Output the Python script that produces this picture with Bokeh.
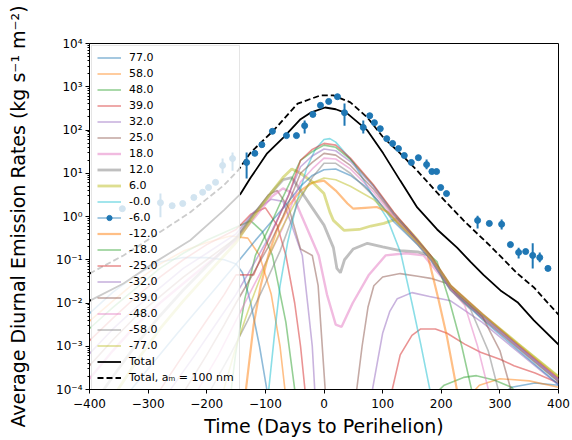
import numpy as np
from bokeh.plotting import figure
from bokeh.models import Range1d, FixedTicker, CustomJSTickFormatter, Legend, LegendItem
from bokeh.embed import file_html
from bokeh.resources import INLINE

# ---- latitude curves: days to perihelion, log10 of emission rate ----
lat_labels = ["77.0", "58.0", "48.0", "39.0", "32.0", "25.0", "18.0", "12.0", "6.0", "-0.0",
              "-6.0", "-12.0", "-18.0", "-25.0", "-32.0", "-39.0", "-48.0", "-58.0", "-77.0"]
lat_colors = ["#1f77b4", "#ff7f0e", "#2ca02c", "#d62728", "#9467bd", "#8c564b", "#e377c2",
              "#7f7f7f", "#bcbd22", "#17becf", "#1f77b4", "#ff7f0e", "#2ca02c", "#d62728",
              "#9467bd", "#8c564b", "#e377c2", "#7f7f7f", "#bcbd22"]

days_p77 = [-400, -360, -320, -280, -240, -200, -170, -150, -139, -125, -110, -95, 295, 320, 360, 400]
lg_p77 = [-2.24, -1.75, -1.35, -1.05, -0.95, -0.95, -1.0, -1.1, -1.3, -2.0, -3.0, -4.2, -4.2, -3.95, -3.85, -3.9]

days_p58 = [-400, -360, -320, -280, -240, -200, -160, -130, -110, -90, -75, -65, 245, 265, 300, 350, 400]
lg_p58 = [-2.42, -1.95, -1.5, -1.1, -0.8, -0.6, -0.45, -0.5, -0.9, -1.8, -3.0, -4.2, -4.2, -3.9, -3.75, -3.8, -3.95]

days_p48 = [-400, -360, -320, -280, -240, -200, -150, -125, -105, -88, -65, -48, 182, 205, 238, 260, 290, 320, 335]
lg_p48 = [-2.59, -2.1, -1.65, -1.2, -0.85, -0.55, -0.25, -0.1, -0.35, -0.9, -2.45, -4.2, -4.2, -3.9, -3.72, -3.68, -3.78, -3.95, -4.2]

days_p39 = [-400, -360, -320, -280, -240, -200, -150, -125, -100, -80, -65, -50, -40, -31,
            113, 130, 150, 165, 190, 210, 240, 267, 300, 324, 360, 400]
lg_p39 = [-2.87, -2.35, -1.85, -1.4, -1.0, -0.65, -0.3, 0.05, 0.2, -0.2, -0.9, -2.0, -3.0, -4.2,
          -4.2, -3.2, -2.75, -2.6, -2.6, -2.7, -2.95, -3.14, -3.3, -3.45, -3.62, -3.85]

days_p32 = [-400, -360, -320, -280, -240, -200, -150, -120, -90, -70, -55, -37, -28, -20, -15,
            80, 92, 100, 112, 125, 150, 180, 216, 270, 330, 400]
lg_p32 = [-3.17, -2.6, -2.1, -1.65, -1.2, -0.85, -0.4, 0.1, 0.4, 0.35, -0.2, -0.9, -2.0, -3.0, -4.2,
          -4.2, -3.3, -2.7, -2.2, -1.9, -1.76, -1.85, -1.95, -2.45, -3.12, -3.9]

days_p25 = [-400, -360, -320, -280, -240, -200, -150, -120, -95, -80, -60, -40, -20, -10, -4, 3,
            54, 65, 75, 85, 100, 130, 160, 182, 210, 227, 270, 330, 400]
lg_p25 = [-3.45, -2.85, -2.3, -1.85, -1.4, -1.0, -0.5, 0.05, 0.5, 0.6, 0.2, -0.75, -0.9, -1.6, -2.8, -4.2,
          -4.2, -3.0, -2.1, -1.6, -1.4, -1.32, -1.38, -1.43, -1.55, -1.83, -2.35, -3.03, -3.82]

days_p18 = [-400, -360, -320, -280, -240, -200, -150, -120, -90, -70, -55, -40, -25, -9, 5, 20, 30,
            49, 76, 105, 140, 170, 216, 270, 330, 400]
lg_p18 = [-3.75, -3.1, -2.5, -2.0, -1.55, -1.1, -0.55, -0.05, 0.45, 0.65, 0.55, 0.07, -0.4, -0.9, -1.8, -2.5, -2.55,
          -2.0, -1.36, -0.9, -0.85, -0.9, -1.65, -2.33, -3.0, -3.78]

days_p12 = [-386, -360, -320, -280, -240, -200, -150, -120, -90, -70, -55, -40, -20, 0, 16, 22, 28, 35,
            50, 74, 100, 130, 160, 180, 216, 270, 330, 400]
lg_p12 = [-4.2, -3.7, -2.95, -2.3, -1.7, -1.15, -0.5, 0.05, 0.55, 0.85, 0.9, 0.6, 0.2, -0.2, -0.72, -1.2, -1.3, -1.0,
          -0.75, -0.62, -0.7, -0.79, -0.82, -0.9, -1.62, -2.3, -3.0, -3.8]

days_p6 = [-361, -320, -280, -240, -200, -150, -120, -90, -70, -55, -40, -20, 0, 10, 16, 34,
           60, 80, 102, 125, 140, 160, 182, 216, 270, 330, 400]
lg_p6 = [-4.2, -3.35, -2.6, -1.95, -1.35, -0.6, 0.0, 0.55, 0.9, 1.1, 1.0, 0.8, 0.53, 0.1, -0.09, -0.32,
         -0.3, -0.22, -0.16, -0.05, -0.25, -0.55, -0.92, -1.6, -2.26, -2.93, -3.7]

days_m0 = [-95, -85, -75, -62, -45, -30, -15, 0, 10, 20, 50, 80, 108, 131, 150, 165, 182]
lg_m0 = [-4.1, -2.8, -1.6, -0.6, 0.4, 1.1, 1.55, 1.78, 1.8, 1.72, 1.25, 0.55, -0.05, -0.85, -2.0, -2.95, -4.1]

days_m6 = [-335, -250, -200, -150, -120, -95, -60, -40, -20, 0, 20, 45, 70, 90, 119, 160, 182, 216, 270, 330, 400]
lg_m6 = [-4.1, -2.7, -1.9, -1.1, -0.6, -0.2, 0.35, 0.7, 0.95, 1.08, 1.1, 0.95, 0.7, 0.4, -0.12, -0.66, -1.0, -1.7, -2.38, -3.08, -3.88]

days_m12 = [-134, -120, -108, -95, -80, -60, -40, -20, 0, 20, 40, 50, 70, 90, 110, 130, 150, 176, 195, 210, 228]
lg_m12 = [-4.1, -2.5, -1.6, -0.9, -0.3, 0.25, 0.6, 0.78, 0.83, 0.6, 0.3, 0.18, 0.2, 0.22, 0.1, -0.2, -0.45, -0.85, -1.9, -2.8, -4.1]

days_m18 = [-160, -151, -135, -117, -95, -70, -40, -20, 0, 20, 45, 84, 119, 160, 182, 193, 215, 235, 255]
lg_m18 = [-4.2, -3.2, -1.9, -0.9, -0.3, 0.45, 1.3, 1.5, 1.65, 1.6, 1.32, 0.72, 0.08, -0.56, -0.91, -1.05, -2.0, -3.0, -4.2]

days_m25 = [-284, -240, -200, -170, -150, -120, -100, -80, -60, -40, -20, 0, 20, 45, 84, 119, 160, 182, 216, 270, 330, 400]
lg_m25 = [-4.1, -3.2, -2.4, -1.8, -1.35, -1.35, -0.7, -0.1, 0.5, 1.3, 1.55, 1.69, 1.65, 1.35, 0.74, 0.1, -0.55, -0.9, -1.6, -2.25, -2.95, -3.74]

days_m32 = [-267, -220, -180, -150, -120, -95, -70, -40, -20, 0, 20, 45, 84, 119, 160, 182, 216, 270, 330, 400]
lg_m32 = [-4.1, -3.2, -2.4, -1.8, -1.1, -0.5, 0.2, 1.15, 1.4, 1.56, 1.52, 1.27, 0.7, 0.06, -0.57, -0.93, -1.63, -2.28, -2.98, -3.77]

days_m39 = [-241, -200, -170, -150, -120, -95, -70, -40, -20, 0, 20, 45, 84, 119, 160, 182, 216, 270, 300, 323]
lg_m39 = [-4.1, -3.2, -2.5, -2.0, -1.3, -0.7, 0.0, 1.0, 1.25, 1.46, 1.42, 1.18, 0.64, 0.03, -0.6, -0.95, -1.66, -2.31, -3.1, -4.2]

days_m48 = [-219, -180, -150, -120, -95, -70, -40, -20, 0, 20, 45, 84, 119, 160, 182, 216, 240, 262, 284]
lg_m48 = [-4.1, -3.2, -2.4, -1.6, -0.95, -0.25, 0.8, 1.1, 1.35, 1.33, 1.1, 0.57, -0.01, -0.62, -0.97, -1.68, -2.05, -3.0, -4.2]

days_m58 = [-197, -160, -130, -100, -75, -45, -20, 0, 20, 45, 84, 119, 160, 182, 216, 250, 280, 301]
lg_m58 = [-4.1, -3.2, -2.4, -1.55, -0.8, 0.3, 0.9, 1.23, 1.23, 1.0, 0.48, -0.06, -0.65, -1.0, -1.71, -2.15, -3.1, -4.2]

days_m77 = [-173, -150, -125, -100, -75, -50, -25, 0, 20, 45, 84, 119, 160, 182, 216, 270, 330, 400]
lg_m77 = [-4.1, -3.0, -2.0, -1.1, -0.35, 0.3, 0.75, 0.89, 0.85, 0.7, 0.4, -0.05, -0.6, -0.94, -1.62, -2.26, -2.93, -3.7]

# ---- totals ----
total_days = [-400, -342, -284, -228, -171, -142, -125, -97, -69, -40, -23, 2, 20, 40, 74, 101, 130, 159,
              193, 227, 250, 272, 301, 330, 358, 400]
total_lg = [-1.95, -1.55, -1.02, -0.55, 0.14, 0.53, 0.9, 1.46, 1.83, 2.25, 2.4, 2.52, 2.48, 2.38, 1.99, 1.46, 0.83, 0.21,
            -0.3, -0.72, -1.05, -1.35, -1.71, -1.98, -2.4, -2.96]

total100_days = [-400, -342, -284, -228, -171, -147, -125, -86, -45, -6, 16, 45, 74, 101, 130, 159, 193, 238, 285, 330, 358, 400]
total100_lg = [-1.32, -0.9, -0.4, 0.1, 0.72, 1.06, 1.48, 1.99, 2.61, 2.8, 2.8, 2.64, 2.29, 1.83, 1.46, 1.06, 0.55, -0.09, -0.7, -1.32, -1.64, -2.27]

# ---- observations ----
obs_days = [-344, -279, -259, -241, -222, -207, -197, -185, -173, -156, -132, -118, -106, -88, -64, -47, -33, -19, -6, 8,
            23, 35, 67, 78, 86, 96, 107, 117, 127, 137, 149, 161, 175, 184, 192, 199, 209,
            262, 282, 303, 318, 332, 344, 356, 368, 382]
obs_lg = [0.18, 0.32, 0.25, 0.30, 0.44, 0.56, 0.67, 0.79, 1.18, 1.34, 1.25, 1.46, 1.66, 1.97, 1.87, 1.87, 2.10, 2.36, 2.57, 2.66,
          2.77, 2.40, 2.06, 2.33, 2.17, 2.03, 1.80, 1.69, 1.57, 1.41, 1.25, 1.36, 1.20, 1.04, 1.04, 0.67, 0.53,
          -0.09, -0.16, -0.18, -0.65, -0.83, -0.81, -0.90, -0.95, -1.20]
err_days = [-279, -173, -156, -132, -33, 35, 67, 175, 262, 303, 332, 356, 368]
err_lo = [-0.02, 1.0, 1.06, 0.88, 1.92, 2.10, 1.92, 1.09, -0.28, -0.30, -0.97, -1.20, -1.06]
err_hi = [0.53, 1.34, 1.48, 1.48, 2.22, 2.61, 2.22, 1.32, 0.02, -0.07, -0.72, -0.62, -0.83]

# ---- axes ----
xticks = [-400, -300, -200, -100, 0, 100, 200, 300, 400]
ytick_exponents = [-4, -3, -2, -1, 0, 1, 2, 3, 4]

lat_days = [days_p77, days_p58, days_p48, days_p39, days_p32, days_p25, days_p18, days_p12, days_p6, days_m0,
            days_m6, days_m12, days_m18, days_m25, days_m32, days_m39, days_m48, days_m58, days_m77]
lat_lg = [lg_p77, lg_p58, lg_p48, lg_p39, lg_p32, lg_p25, lg_p18, lg_p12, lg_p6, lg_m0,
          lg_m6, lg_m12, lg_m18, lg_m25, lg_m32, lg_m39, lg_m48, lg_m58, lg_m77]
lat_widths = {"6.0": 2.8, "12.0": 2.8, "18.0": 2.4, "-12.0": 2.2}

p = figure(width=572, height=440, x_range=Range1d(-400, 400), y_range=Range1d(1e-4, 1e4),
           y_axis_type="log", output_backend="svg", toolbar_location=None,
           min_border_left=89, min_border_right=14, min_border_top=43, min_border_bottom=51)
p.xgrid.visible = False
p.ygrid.visible = False
p.outline_line_color = "black"
p.outline_line_alpha = 1
p.outline_line_width = 1

items = []
lat_renderers = []
for lab, col, d, lg in zip(lat_labels, lat_colors, lat_days, lat_lg):
    r = p.line(d, 10.0 ** np.array(lg), line_color=col, line_alpha=0.5,
               line_width=lat_widths.get(lab, 1.6))
    lat_renderers.append(r)

r_tot = p.line(total_days, 10.0 ** np.array(total_lg), line_color="black", line_width=1.8)
r_tot100 = p.line(total100_days, 10.0 ** np.array(total100_lg), line_color="black",
                  line_width=1.8, line_dash="6 3")

p.segment(x0=err_days, y0=10.0 ** np.array(err_lo), x1=err_days, y1=10.0 ** np.array(err_hi),
          line_color="#1f77b4", line_width=2)
r_obs = p.scatter(obs_days, 10.0 ** np.array(obs_lg), marker="circle", size=6,
                  fill_color="#1f77b4", line_color="#1f77b4")

for lab, r in zip(lat_labels, lat_renderers):
    rs = [r, r_obs] if lab == "-6.0" else [r]
    items.append(LegendItem(label=lab, renderers=rs))
items.append(LegendItem(label="Total", renderers=[r_tot]))
items.append(LegendItem(label="Total, a\u2098 = 100 nm", renderers=[r_tot100]))

legend = Legend(items=items, location="top_left", margin=2, padding=5, spacing=3,
                glyph_width=24, glyph_height=13, label_height=13, label_standoff=8,
                label_text_font="DejaVu Sans", label_text_font_size="11px",
                label_text_color="black", border_line_color="#cccccc", border_line_width=1,
                background_fill_color="white", background_fill_alpha=0.8)
p.add_layout(legend)

p.xaxis.ticker = FixedTicker(ticks=xticks)
p.yaxis.ticker = FixedTicker(ticks=[10.0 ** e for e in ytick_exponents],
                             minor_ticks=[m * 10.0 ** e for e in ytick_exponents[:-1] for m in range(2, 10)])
p.yaxis.formatter = CustomJSTickFormatter(code="""
const e = Math.round(Math.log10(tick));
const sup = {"-": "\u207b", "0": "\u2070", "1": "\u00b9", "2": "\u00b2", "3": "\u00b3", "4": "\u2074",
             "5": "\u2075", "6": "\u2076", "7": "\u2077", "8": "\u2078", "9": "\u2079"};
let s = "";
for (const c of String(e)) { s += sup[c]; }
return "10" + s;
""")
p.xaxis.formatter = CustomJSTickFormatter(code="""
return tick < 0 ? "\u2212" + Math.abs(tick) : String(tick);
""")

for ax in (p.xaxis[0], p.yaxis[0]):
    ax.axis_line_color = "black"
    ax.major_tick_line_color = "black"
    ax.minor_tick_line_color = "black"
    ax.major_tick_in = 0
    ax.major_tick_out = 4
    ax.minor_tick_in = 0
    ax.minor_tick_out = 2
    ax.major_label_text_font = "DejaVu Sans"
    ax.major_label_text_font_size = "12px"
    ax.major_label_text_color = "black"
    ax.axis_label_text_font = "DejaVu Sans"
    ax.axis_label_text_font_size = "19px"
    ax.axis_label_text_font_style = "normal"
    ax.axis_label_text_color = "black"
p.xaxis.minor_tick_line_color = None
p.yaxis.major_label_standoff = 3
p.yaxis.axis_label_standoff = 24
p.xaxis.axis_label_standoff = 4
p.xaxis.axis_label = "Time (Days to Perihelion)"
p.yaxis.axis_label = "Average Diurnal Emission Rates (kg s\u207b\u00b9 m\u207b\u00b2)"

open("out.html", "w").write(file_html(p, INLINE))
